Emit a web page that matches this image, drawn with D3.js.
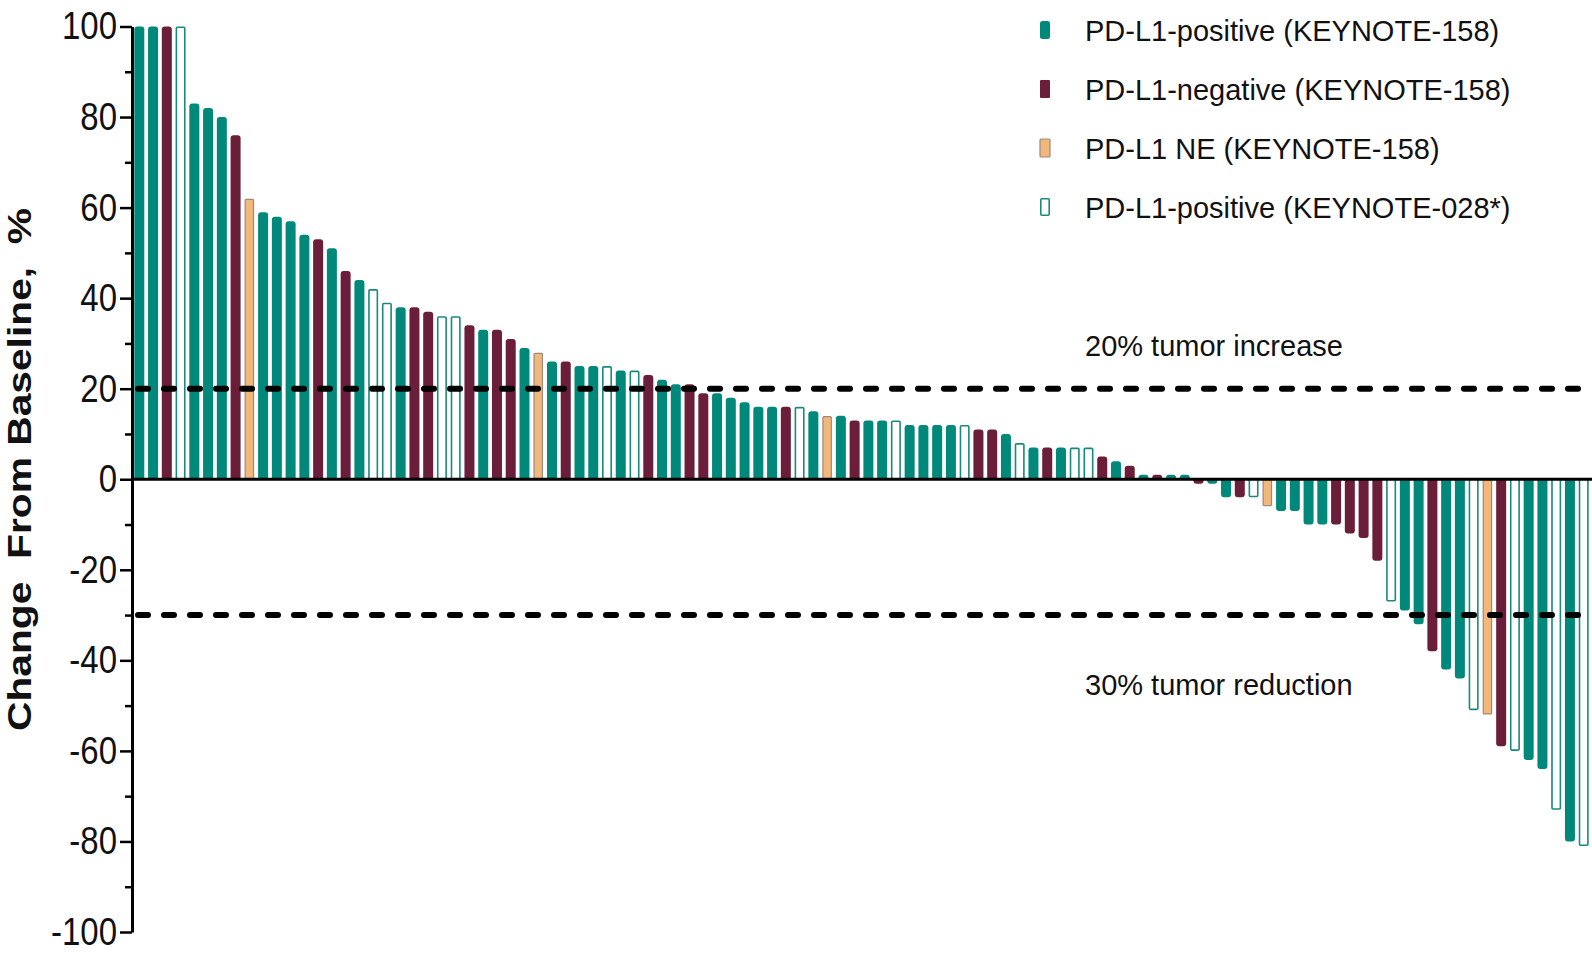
<!DOCTYPE html>
<html>
<head>
<meta charset="utf-8">
<script src="https://cdn.jsdelivr.net/npm/d3@7"></script>
<style>
  html, body { margin: 0; padding: 0; background: #fff; }
  svg { display: block; }
</style>
</head>
<body>
<script>
// Best percentage change in target lesion size, one bar per patient (sorted)
const values = [
  100, 100, 100, 100, 83, 82, 80, 76, 62, 59, 58, 57, 54, 53, 51, 46, 44, 42, 39, 38,
  38, 37, 36, 36, 34, 33, 33, 31, 29, 28, 26, 26, 25, 25, 25, 24, 24, 23, 22, 21,
  21, 19, 19, 18, 17, 16, 16, 16, 16, 15, 14, 14, 13, 13, 13, 13, 12, 12, 12, 12,
  12, 11, 11, 10, 8, 7, 7, 7, 7, 7, 5, 4, 3, 1, 1, 1, 1, -1, -1, -4,
  -4, -4, -6, -7, -7, -10, -10, -10, -12, -13, -18, -27, -29, -32, -38, -42, -44, -51, -52, -59,
  -60, -62, -64, -73, -80, -81
];
// Cohort of each patient: pos158 / neg158 / ne158 / pos028
const cohorts = [
  "pos158","pos158","neg158","pos028","pos158","pos158","pos158","neg158","ne158","pos158",
  "pos158","pos158","pos158","neg158","pos158","neg158","pos158","pos028","pos028","pos158",
  "neg158","neg158","pos028","pos028","neg158","pos158","neg158","neg158","pos158","ne158",
  "pos158","neg158","pos158","pos158","pos028","pos158","pos028","neg158","pos158","pos158",
  "neg158","neg158","pos158","pos158","pos158","pos158","pos158","neg158","pos028","pos158",
  "ne158","pos158","neg158","pos158","pos158","pos028","pos158","pos158","pos158","pos158",
  "pos028","neg158","neg158","pos158","pos028","pos158","neg158","pos158","pos028","pos028",
  "neg158","pos158","neg158","pos158","neg158","pos158","pos158","neg158","pos158","pos158",
  "neg158","pos028","ne158","pos158","pos158","pos158","pos158","neg158","neg158","neg158",
  "neg158","pos028","pos158","pos158","neg158","pos158","pos158","pos028","ne158","neg158",
  "pos028","pos158","pos158","pos028","pos158","pos028"
];
const cohortKeys = ["pos158", "neg158", "ne158", "pos028"];
const legendLabels = [
  "PD-L1-positive (KEYNOTE-158)",
  "PD-L1-negative (KEYNOTE-158)",
  "PD-L1 NE (KEYNOTE-158)",
  "PD-L1-positive (KEYNOTE-028*)"
];
const majorTicks = [100, 80, 60, 40, 20, 0, -20, -40, -60, -80, -100];
const minorTicks = [90, 70, 50, 30, 10, -10, -30, -50, -70, -90];
const thresholds = [20, -30];
const thresholdLabels = ["20% tumor increase", "30% tumor reduction"];
const yTitle = "Change  From Baseline,  %";

const W = 1592, H = 962;
const FONT = "'Liberation Sans', Arial, Helvetica, sans-serif";

const fillColor = { pos158: "#00897a", neg158: "#6b1e3a", ne158: "#f2b77a", pos028: "#ffffff" };
const strokeColor = { pos158: "none", neg158: "none", ne158: "#9c8a7c", pos028: "#1a8a7c" };

const svg = d3.select("body").append("svg")
  .attr("width", W).attr("height", H)
  .style("font-family", FONT);

const y = d3.scaleLinear().domain([-100, 100]).range([932, 26.5]);
const x = d3.scaleBand()
  .domain(d3.range(values.length))
  .range([134.3, 1588.7])
  .paddingInner(0.273)
  .paddingOuter(0);

const axisX = 132;

// bar outline with a rounded tip at the far end from zero
function barPath(i) {
  const v = values[i];
  const open = cohorts[i] === "pos028" || cohorts[i] === "ne158";
  const inset = open ? 0.8 : 0;
  const x0 = x(i) + inset, x1 = x(i) + x.bandwidth() - inset;
  const y0 = y(0);
  const yt = y(v) + (v >= 0 ? inset : -inset);
  const h = Math.abs(y0 - yt);
  const r = Math.min(open ? 1 : 3, h, (x1 - x0) / 2);
  if (v >= 0) {
    return `M${x0},${y0}V${yt + r}Q${x0},${yt} ${x0 + r},${yt}H${x1 - r}Q${x1},${yt} ${x1},${yt + r}V${y0}Z`;
  } else {
    return `M${x0},${y0}V${yt - r}Q${x0},${yt} ${x0 + r},${yt}H${x1 - r}Q${x1},${yt} ${x1},${yt - r}V${y0}Z`;
  }
}

svg.append("g").attr("class", "bars")
  .selectAll("path")
  .data(d3.range(values.length))
  .join("path")
  .attr("d", barPath)
  .attr("fill", i => fillColor[cohorts[i]])
  .attr("stroke", i => strokeColor[cohorts[i]])
  .attr("stroke-width", i => cohorts[i] === "pos028" ? 1.6 : 1.2);

// zero line
svg.append("line")
  .attr("x1", axisX).attr("x2", W)
  .attr("y1", y(0)).attr("y2", y(0))
  .attr("stroke", "#000").attr("stroke-width", 3);

// threshold lines
svg.append("g").selectAll("line")
  .data(thresholds)
  .join("line")
  .attr("x1", axisX + 6).attr("x2", W)
  .attr("y1", d => y(d)).attr("y2", d => y(d))
  .attr("stroke", "#000")
  .attr("stroke-width", 6)
  .attr("stroke-linecap", "round")
  .attr("stroke-dasharray", "10 16");

svg.append("g").selectAll("text")
  .data(thresholdLabels)
  .join("text")
  .attr("x", 1085)
  .attr("y", (d, i) => i === 0 ? 356 : 695)
  .attr("font-size", 29)
  .attr("fill", "#111")
  .text(d => d);

// y axis: major ticks with labels, minor ticks without
const yAxis = svg.append("g")
  .attr("transform", `translate(${axisX},0)`)
  .call(d3.axisLeft(y).tickValues(majorTicks).tickSize(12).tickSizeOuter(0).tickPadding(3)
    .tickFormat(d => String(d)));
yAxis.select(".domain").attr("stroke-width", 3);
yAxis.selectAll(".tick line").attr("stroke-width", 2.5);
yAxis.selectAll(".tick text")
  .attr("font-size", 33)
  .attr("font-family", FONT)
  .attr("fill", "#111")
  .attr("transform", "scale(1,1.18)");

const yMinor = svg.append("g")
  .attr("transform", `translate(${axisX},0)`)
  .call(d3.axisLeft(y).tickValues(minorTicks).tickSize(7).tickFormat(""));
yMinor.select(".domain").remove();
yMinor.selectAll(".tick line").attr("stroke-width", 2.5);

// axis title
svg.append("text")
  .attr("transform", `translate(31,${(208 + 731) / 2}) rotate(-90)`)
  .attr("text-anchor", "middle")
  .attr("font-size", 34)
  .attr("font-weight", "bold")
  .attr("fill", "#111")
  .attr("xml:space", "preserve")
  .style("white-space", "pre")
  .attr("textLength", 523)
  .attr("lengthAdjust", "spacingAndGlyphs")
  .text(yTitle);

// legend
const legend = svg.append("g").attr("class", "legend");
const rows = legend.selectAll("g")
  .data(cohortKeys)
  .join("g")
  .attr("transform", (d, i) => `translate(0,${41 + i * 59})`);
rows.append("rect")
  .attr("x", d => d === "pos028" ? 1040.8 : 1040)
  .attr("y", d => d === "pos028" ? -19.2 : -20)
  .attr("width", d => d === "pos028" ? 8.4 : 10)
  .attr("height", d => d === "pos028" ? 16.4 : 18)
  .attr("rx", d => d === "pos158" ? 2.5 : 1)
  .attr("fill", d => fillColor[d])
  .attr("stroke", d => strokeColor[d])
  .attr("stroke-width", d => d === "pos028" ? 1.6 : 1.2);
rows.append("text")
  .attr("x", 1085)
  .attr("y", 0)
  .attr("font-size", 29)
  .attr("fill", "#111")
  .text((d, i) => legendLabels[i]);
</script>
</body>
</html>
